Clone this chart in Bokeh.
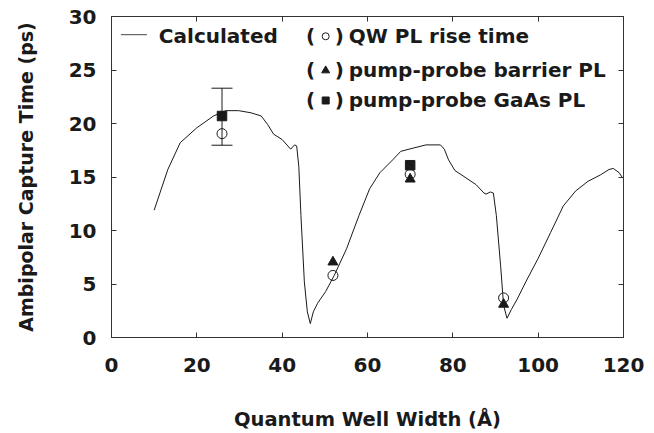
from bokeh.plotting import figure
from bokeh.models import (Label, Whisker, TeeHead, ColumnDataSource, LinearAxis,
                          FixedTicker, Range1d, CustomJSTickFormatter)
from bokeh.embed import file_html
from bokeh.resources import INLINE

# Calculated curve
calc_x = [10.0, 13.2, 16.1, 20.0, 23.9, 26.8, 29.8, 32.7, 35.1, 36.6, 38.0, 40.0,
          42.0, 42.9, 43.4, 43.9, 44.4, 45.2, 45.9, 46.6, 47.3, 48.3, 50.2, 52.2,
          55.1, 58.0, 60.5, 62.9, 65.9, 67.8, 70.7, 73.7, 77.1, 78.0, 79.0, 80.5,
          82.4, 85.4, 87.3, 87.8, 88.8, 89.5, 90.2, 91.2, 91.9, 92.7, 93.7, 95.1,
          97.1, 100.0, 102.9, 105.9, 108.8, 111.7, 114.6, 116.6, 117.6, 119.0, 119.8]
calc_y = [11.9, 15.7, 18.2, 19.6, 20.7, 21.2, 21.2, 21.0, 20.7, 19.9, 19.0, 18.5,
          17.6, 18.0, 17.9, 16.0, 11.4, 5.2, 2.4, 1.3, 2.4, 3.2, 4.3, 5.8,
          8.3, 11.4, 13.9, 15.4, 16.6, 17.4, 17.7, 18.0, 18.0, 17.6, 16.6, 15.6,
          15.1, 14.3, 13.5, 13.4, 13.6, 13.5, 11.4, 6.7, 3.0, 1.8, 2.6, 3.6,
          5.2, 7.4, 9.8, 12.3, 13.7, 14.6, 15.2, 15.7, 15.8, 15.4, 14.9]

# QW PL rise time (open circles)
qw_x = [25.9, 51.9, 70.0, 91.9]
qw_y = [19.05, 5.8, 15.25, 3.7]

# pump-probe barrier PL (triangles)
bar_x = [51.9, 70.0, 91.9]
bar_y = [7.05, 14.8, 3.1]

# pump-probe GaAs PL (squares)
gaas_x = [25.9, 70.0]
gaas_y = [20.7, 16.1]

# error bar on first point
err_x = [25.9]
err_lo = [17.97]
err_hi = [23.3]

x_ticks = [0, 20, 40, 60, 80, 100, 120]
y_ticks = [0, 5, 10, 15, 20, 25, 30]

legend_labels = ["QW PL rise time", "pump-probe barrier PL", "pump-probe GaAs PL"]
calc_label = "Calculated"

FONT = "DejaVu Sans"
INK = "#1a1a1a"

p = figure(width=654, height=433, x_range=Range1d(0, 120), y_range=Range1d(0, 30),
           output_backend="svg", toolbar_location=None,
           min_border_left=111, min_border_right=31, min_border_top=16,
           min_border_bottom=95)
p.grid.visible = False
p.outline_line_color = "#333333"
p.outline_line_width = 1
p.background_fill_color = "white"
p.border_fill_color = "white"

for ax in (p.xaxis[0], p.yaxis[0]):
    ax.major_tick_in = 5
    ax.major_tick_out = 0
    ax.minor_tick_line_color = None
    ax.axis_line_color = "#333333"
    ax.major_tick_line_color = "#333333"
    ax.major_label_text_font = FONT
    ax.major_label_text_font_style = "bold"
    ax.major_label_text_font_size = "20px"
    ax.major_label_text_color = INK
    ax.axis_label_text_font = FONT
    ax.axis_label_text_font_style = "bold"
    ax.axis_label_text_color = INK

p.xaxis.ticker = FixedTicker(ticks=x_ticks)
p.yaxis.ticker = FixedTicker(ticks=y_ticks)
p.xaxis.axis_label = "Quantum Well Width (Å)"
p.yaxis.axis_label = "Ambipolar Capture Time (ps)"
p.xaxis.axis_label_text_font_size = "19.5px"
p.yaxis.axis_label_text_font_size = "19px"
p.xaxis.major_label_standoff = 20
p.xaxis.axis_label_standoff = 33
p.yaxis.major_label_standoff = 15
p.yaxis.axis_label_standoff = 29

# mirrored axes (ticks only, no labels)
blank = CustomJSTickFormatter(code="return ''")
top = LinearAxis(ticker=FixedTicker(ticks=x_ticks), formatter=blank,
                 major_label_standoff=0, major_tick_in=5, major_tick_out=0,
                 minor_tick_line_color=None, axis_line_color="#333333",
                 major_tick_line_color="#333333")
right = LinearAxis(ticker=FixedTicker(ticks=y_ticks), formatter=blank,
                   major_label_standoff=0, major_tick_in=5, major_tick_out=0,
                   minor_tick_line_color=None, axis_line_color="#333333",
                   major_tick_line_color="#333333")
p.add_layout(top, "above")
p.add_layout(right, "right")

# curve
p.line(calc_x, calc_y, line_color=INK, line_width=1)

# error bar
esrc = ColumnDataSource(dict(base=err_x, lower=err_lo, upper=err_hi))
w = Whisker(source=esrc, base="base", lower="lower", upper="upper", dimension="height",
            line_color=INK, line_width=1,
            upper_head=TeeHead(size=21, line_color=INK, line_width=1),
            lower_head=TeeHead(size=21, line_color=INK, line_width=1))
p.add_layout(w)

# markers
p.scatter(gaas_x, gaas_y, marker="square", size=9.5, fill_color=INK, line_color=INK)
p.scatter(bar_x, bar_y, marker="triangle", size=10, fill_color=INK, line_color=INK)
p.scatter(qw_x, qw_y, marker="circle", size=10, fill_color=None, line_color=INK,
          line_width=1)

# legend (hand-built)
def lab(x, y, t):
    p.add_layout(Label(x=x, y=y, text=t, text_font=FONT, text_font_style="bold",
                       text_font_size="20px", text_baseline="alphabetic",
                       text_color=INK))

p.line([2.2, 8.3], [28.3, 28.3], line_color="#444444", line_width=1)
lab(11.1, 28.2, calc_label)

rows_base = [28.2, 25.0, 22.2]
rows_mid = [28.15, 24.95, 22.15]
for yy, tt in zip(rows_base, legend_labels):
    lab(45.6, yy, "(")
    lab(52.3, yy, ")")
    lab(55.6, yy, tt)
p.scatter([50.2], [rows_mid[0]], marker="circle", size=7, fill_color=None, line_color=INK)
p.scatter([50.2], [rows_mid[1]], marker="triangle", size=8, fill_color=INK, line_color=INK)
p.scatter([50.2], [rows_mid[2]], marker="square", size=7, fill_color=INK, line_color=INK)

open("out.html", "w").write(file_html(p, INLINE))
